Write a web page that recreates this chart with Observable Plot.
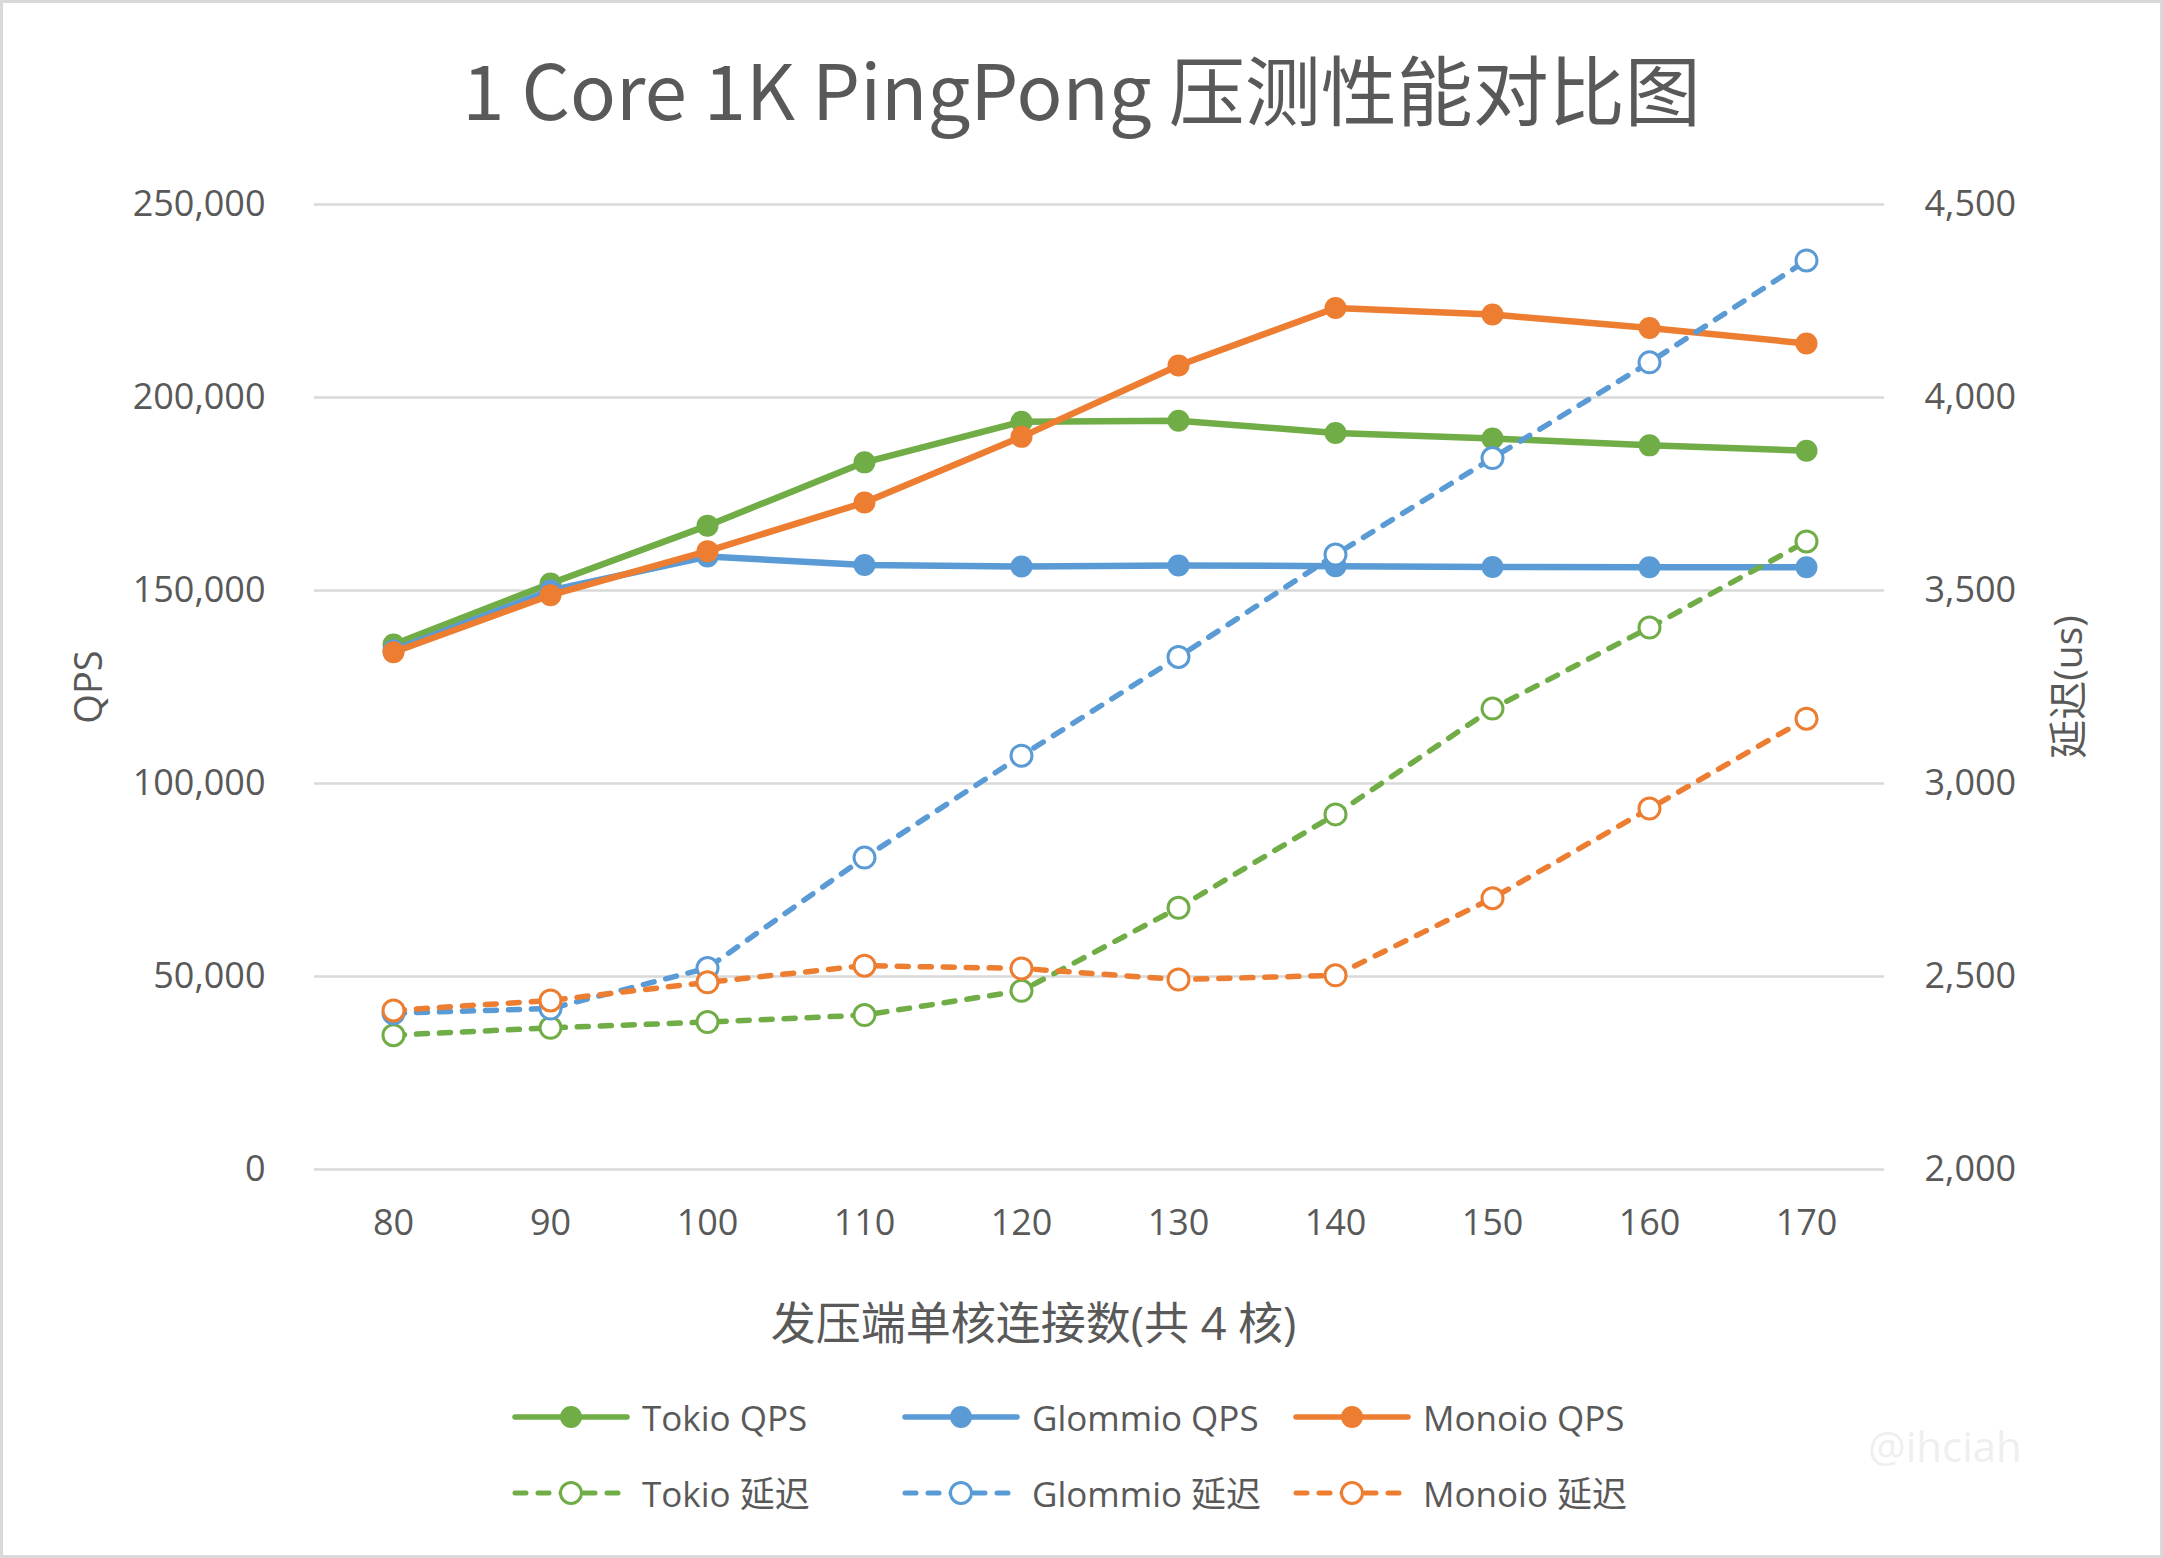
<!DOCTYPE html>
<html>
<head>
<meta charset="utf-8">
<script src="https://cdn.jsdelivr.net/npm/d3@7"></script>
<script src="https://cdn.jsdelivr.net/npm/@observablehq/plot@0.6"></script>
<style>
  html, body { margin: 0; padding: 0; background: #fff; }
  #chart { position: relative; width: 2163px; height: 1558px; background: #fff; overflow: hidden;
           font-family: 'Open Sans', 'Noto Sans CJK SC', sans-serif; color: #595959; }
  #frame { position: absolute; left: 0; top: 0; width: 2163px; height: 1558px; box-sizing: border-box;
           border: 3px solid #d9d9d9; pointer-events: none; }
  #title { position: absolute; left: 0; top: 49px; width: 2163px; text-align: center; font-size: 76px;
           line-height: 1; font-family: 'Noto Sans CJK SC', sans-serif; color: #595959; white-space: nowrap; }
  #plot { position: absolute; left: 0; top: 150px; }
  .legend-item { position: absolute; display: flex; align-items: center; height: 40px; white-space: nowrap;
                 font-size: 35px; line-height: 1; color: #595959; }
  .legend-item svg { margin-right: 12px; overflow: visible; }
  #watermark { position: absolute; left: 1868px; top: 1425px; font-size: 42px; line-height: 1; color: #efefef; }
</style>
</head>
<body>
<div id="chart">
  <div id="title"></div>
  <div id="plot"></div>
  <div id="legend"></div>
  <div id="watermark"></div>
  <div id="frame"></div>
</div>
<script>
// ---------------- data ----------------
const chartTitle = "1 Core 1K PingPong 压测性能对比图";
const xTitle = "发压端单核连接数(共 4 核)";
const yLeftTitle = "QPS";
const yRightTitle = "延迟(us)";
const watermarkText = "@ihciah";

const connections = [80, 90, 100, 110, 120, 130, 140, 150, 160, 170];

const tokioQps   = [136000, 151800, 166800, 183200, 193700, 194000, 190800, 189400, 187600, 186200];
const glommioQps = [134500, 150000, 158800, 156600, 156200, 156500, 156300, 156100, 156000, 156000];
const monoioQps  = [134000, 148800, 160200, 172800, 189800, 208300, 223200, 221500, 218000, 214000];

const tokioLatency   = [2348, 2367, 2382, 2400, 2463, 2678, 2920, 3194, 3404, 3627];
const glommioLatency = [2405, 2417, 2522, 2808, 3072, 3328, 3593, 3843, 4091, 4355];
const monoioLatency  = [2412, 2438, 2485, 2528, 2521, 2492, 2503, 2703, 2935, 3168];

const qpsTicks = [0, 50000, 100000, 150000, 200000, 250000];
const latencyTicks = [2000, 2500, 3000, 3500, 4000, 4500];

const seriesNames  = ["Tokio QPS", "Glommio QPS", "Monoio QPS", "Tokio 延迟", "Glommio 延迟", "Monoio 延迟"];
const seriesValues = [tokioQps, glommioQps, monoioQps, tokioLatency, glommioLatency, monoioLatency];
const seriesAxis   = ["left", "left", "left", "right", "right", "right"];
const seriesColors = ["#70AD47", "#5B9BD5", "#ED7D31", "#70AD47", "#5B9BD5", "#ED7D31"];

// ---------------- build ----------------
const qpsDomain = [0, 250000];
const latDomain = [2000, 4500];
const latToQps = d3.scaleLinear().domain(latDomain).range(qpsDomain);

document.getElementById("title").textContent = chartTitle;
document.getElementById("watermark").textContent = watermarkText;

const series = seriesNames.map((name, i) => ({
  name,
  color: seriesColors[i],
  axis: seriesAxis[i],
  rows: connections.map((c, j) => ({
    conn: c,
    v: seriesAxis[i] === "left" ? seriesValues[i][j] : latToQps(seriesValues[i][j])
  }))
}));

const dash = "11,12";
const seriesMarks = series.flatMap(s => s.axis === "left"
  ? [
      Plot.line(s.rows, {x: "conn", y: "v", stroke: s.color, strokeWidth: 6.5, strokeLinejoin: "round", strokeLinecap: "round"}),
      Plot.dot(s.rows, {x: "conn", y: "v", r: 11, fill: s.color, stroke: "none"})
    ]
  : [
      Plot.line(s.rows, {x: "conn", y: "v", stroke: s.color, strokeWidth: 5.5, strokeDasharray: dash, strokeLinecap: "round"}),
      Plot.dot(s.rows, {x: "conn", y: "v", r: 10.5, fill: "white", stroke: s.color, strokeWidth: 3})
    ]);

const fmt = d3.format(",");
const plot = Plot.plot({
  width: 2163,
  height: 1210,
  marginTop: 54,
  marginBottom: 191,
  marginLeft: 314,
  marginRight: 279,
  x: {type: "point", domain: connections, padding: 0.5},
  y: {domain: qpsDomain},
  style: {fontFamily: "'Open Sans', 'Noto Sans CJK SC', sans-serif", fontSize: "36px", color: "#595959", background: "transparent", overflow: "visible"},
  marks: [
    Plot.gridY(qpsTicks, {stroke: "#d9d9d9", strokeOpacity: 1, strokeWidth: 2.5}),
    Plot.axisY(qpsTicks, {anchor: "left", tickSize: 0, tickPadding: 49, tickFormat: fmt, label: null, fontSize: 36}),
    Plot.axisY(latencyTicks.map(latToQps), {anchor: "right", tickSize: 0, tickPadding: 40,
      tickFormat: d => fmt(Math.round(latToQps.invert(d))), label: null, fontSize: 36}),
    Plot.axisX({tickSize: 0, tickPadding: 40, label: null, fontSize: 36}),
    Plot.text([yLeftTitle], {frameAnchor: "left", dx: -225, rotate: -90, textAnchor: "middle", lineAnchor: "middle", fontSize: 38, fill: "#595959"}),
    Plot.text([yRightTitle], {frameAnchor: "right", dx: 185, rotate: -90, textAnchor: "middle", lineAnchor: "middle", fontSize: 39, fill: "#595959"}),
    Plot.text([xTitle], {frameAnchor: "bottom", dx: -66, dy: 156, textAnchor: "middle", lineAnchor: "middle", fontSize: 45, fill: "#595959"}),
    ...seriesMarks
  ]
});
document.getElementById("plot").appendChild(plot);

// ---------------- legend ----------------
const legendCols = [512, 902, 1293];
const legendRows = [1417, 1493];
const legend = document.getElementById("legend");
series.forEach((s, i) => {
  const item = document.createElement("div");
  item.className = "legend-item";
  item.style.left = legendCols[i % 3] + "px";
  item.style.top = (legendRows[Math.floor(i / 3)] - 20) + "px";
  const svg = d3.create("svg").attr("width", 118).attr("height", 26);
  const solid = s.axis === "left";
  svg.append("line").attr("x1", 3).attr("x2", 115).attr("y1", 13).attr("y2", 13)
    .attr("stroke", s.color).attr("stroke-width", solid ? 5.5 : 5)
    .attr("stroke-linecap", "round").attr("stroke-dasharray", solid ? null : dash);
  svg.append("circle").attr("cx", 59).attr("cy", 13).attr("r", solid ? 11 : 10.5)
    .attr("fill", solid ? s.color : "white").attr("stroke", solid ? "none" : s.color).attr("stroke-width", 3);
  item.appendChild(svg.node());
  const label = document.createElement("span");
  label.textContent = s.name;
  item.appendChild(label);
  legend.appendChild(item);
});
</script>
</body>
</html>
